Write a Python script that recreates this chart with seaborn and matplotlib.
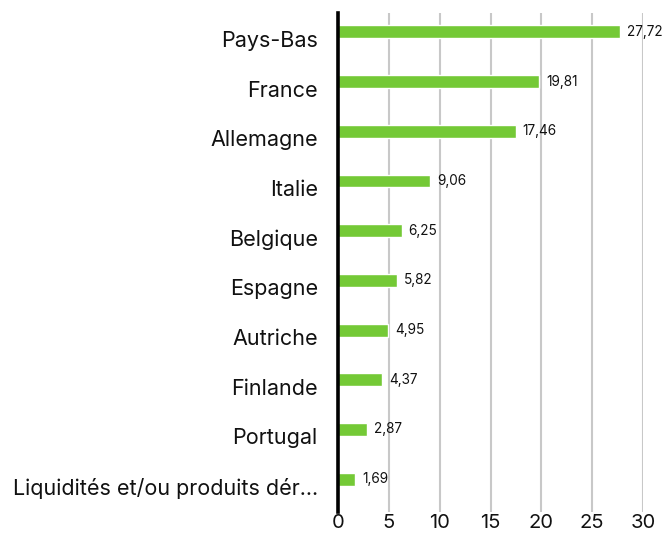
import matplotlib
matplotlib.use("Agg")
import matplotlib.pyplot as plt
import matplotlib.transforms as mtransforms
import seaborn as sns
import pandas as pd

categories = ["Pays-Bas", "France", "Allemagne", "Italie", "Belgique", "Espagne",
              "Autriche", "Finlande", "Portugal", "Liquidités et/ou produits dér..."]
values = [27.72, 19.81, 17.46, 9.06, 6.25, 5.82, 4.95, 4.37, 2.87, 1.69]
xticks = [0, 5, 10, 15, 20, 25, 30]

sns.set_theme(style="white")
plt.rcParams['font.family'] = ['Inter', 'DejaVu Sans']

df = pd.DataFrame({"cat": categories, "val": values})

fig = plt.figure(figsize=(6.64, 5.34), dpi=100)
ax = fig.add_axes([338/664, 1-512/534, (643-338)/664, (512-13)/534])

sns.barplot(data=df, x="val", y="cat", ax=ax, color="#74c936", width=0.26,
            saturation=1, zorder=3)

ax.set_xlim(0, 30)
ax.set_ylim(9.66, -0.38)
ax.set_xticks(xticks)
ax.set_xticklabels([str(t) for t in xticks], fontsize=14.5, color="#111111")
ax.tick_params(axis="x", length=0, pad=1.5)
ax.tick_params(axis="y", length=0, pad=14.5, labelsize=15.5, labelcolor="#111111")
ax.set_xlabel("")
ax.set_ylabel("")

offset = mtransforms.ScaledTranslation(0, -7/100, fig.dpi_scale_trans)
for lab in ax.get_yticklabels():
    lab.set_transform(lab.get_transform() + offset)

for t in xticks[1:]:
    ax.axvline(t, color="#c8c8c8", lw=1.5, zorder=1)

for s in ["top", "right", "bottom"]:
    ax.spines[s].set_visible(False)
ax.spines["left"].set_color("black")
ax.spines["left"].set_linewidth(2.6)
ax.spines["left"].set_zorder(5)

for i, v in enumerate(values):
    ax.annotate(f"{v:.2f}".replace(".", ","), xy=(v, i), xytext=(5, 0),
                textcoords="offset points", va="center", ha="left",
                fontsize=9.8, color="#111111", annotation_clip=False, zorder=4)

fig.savefig("out.png", dpi=100)
